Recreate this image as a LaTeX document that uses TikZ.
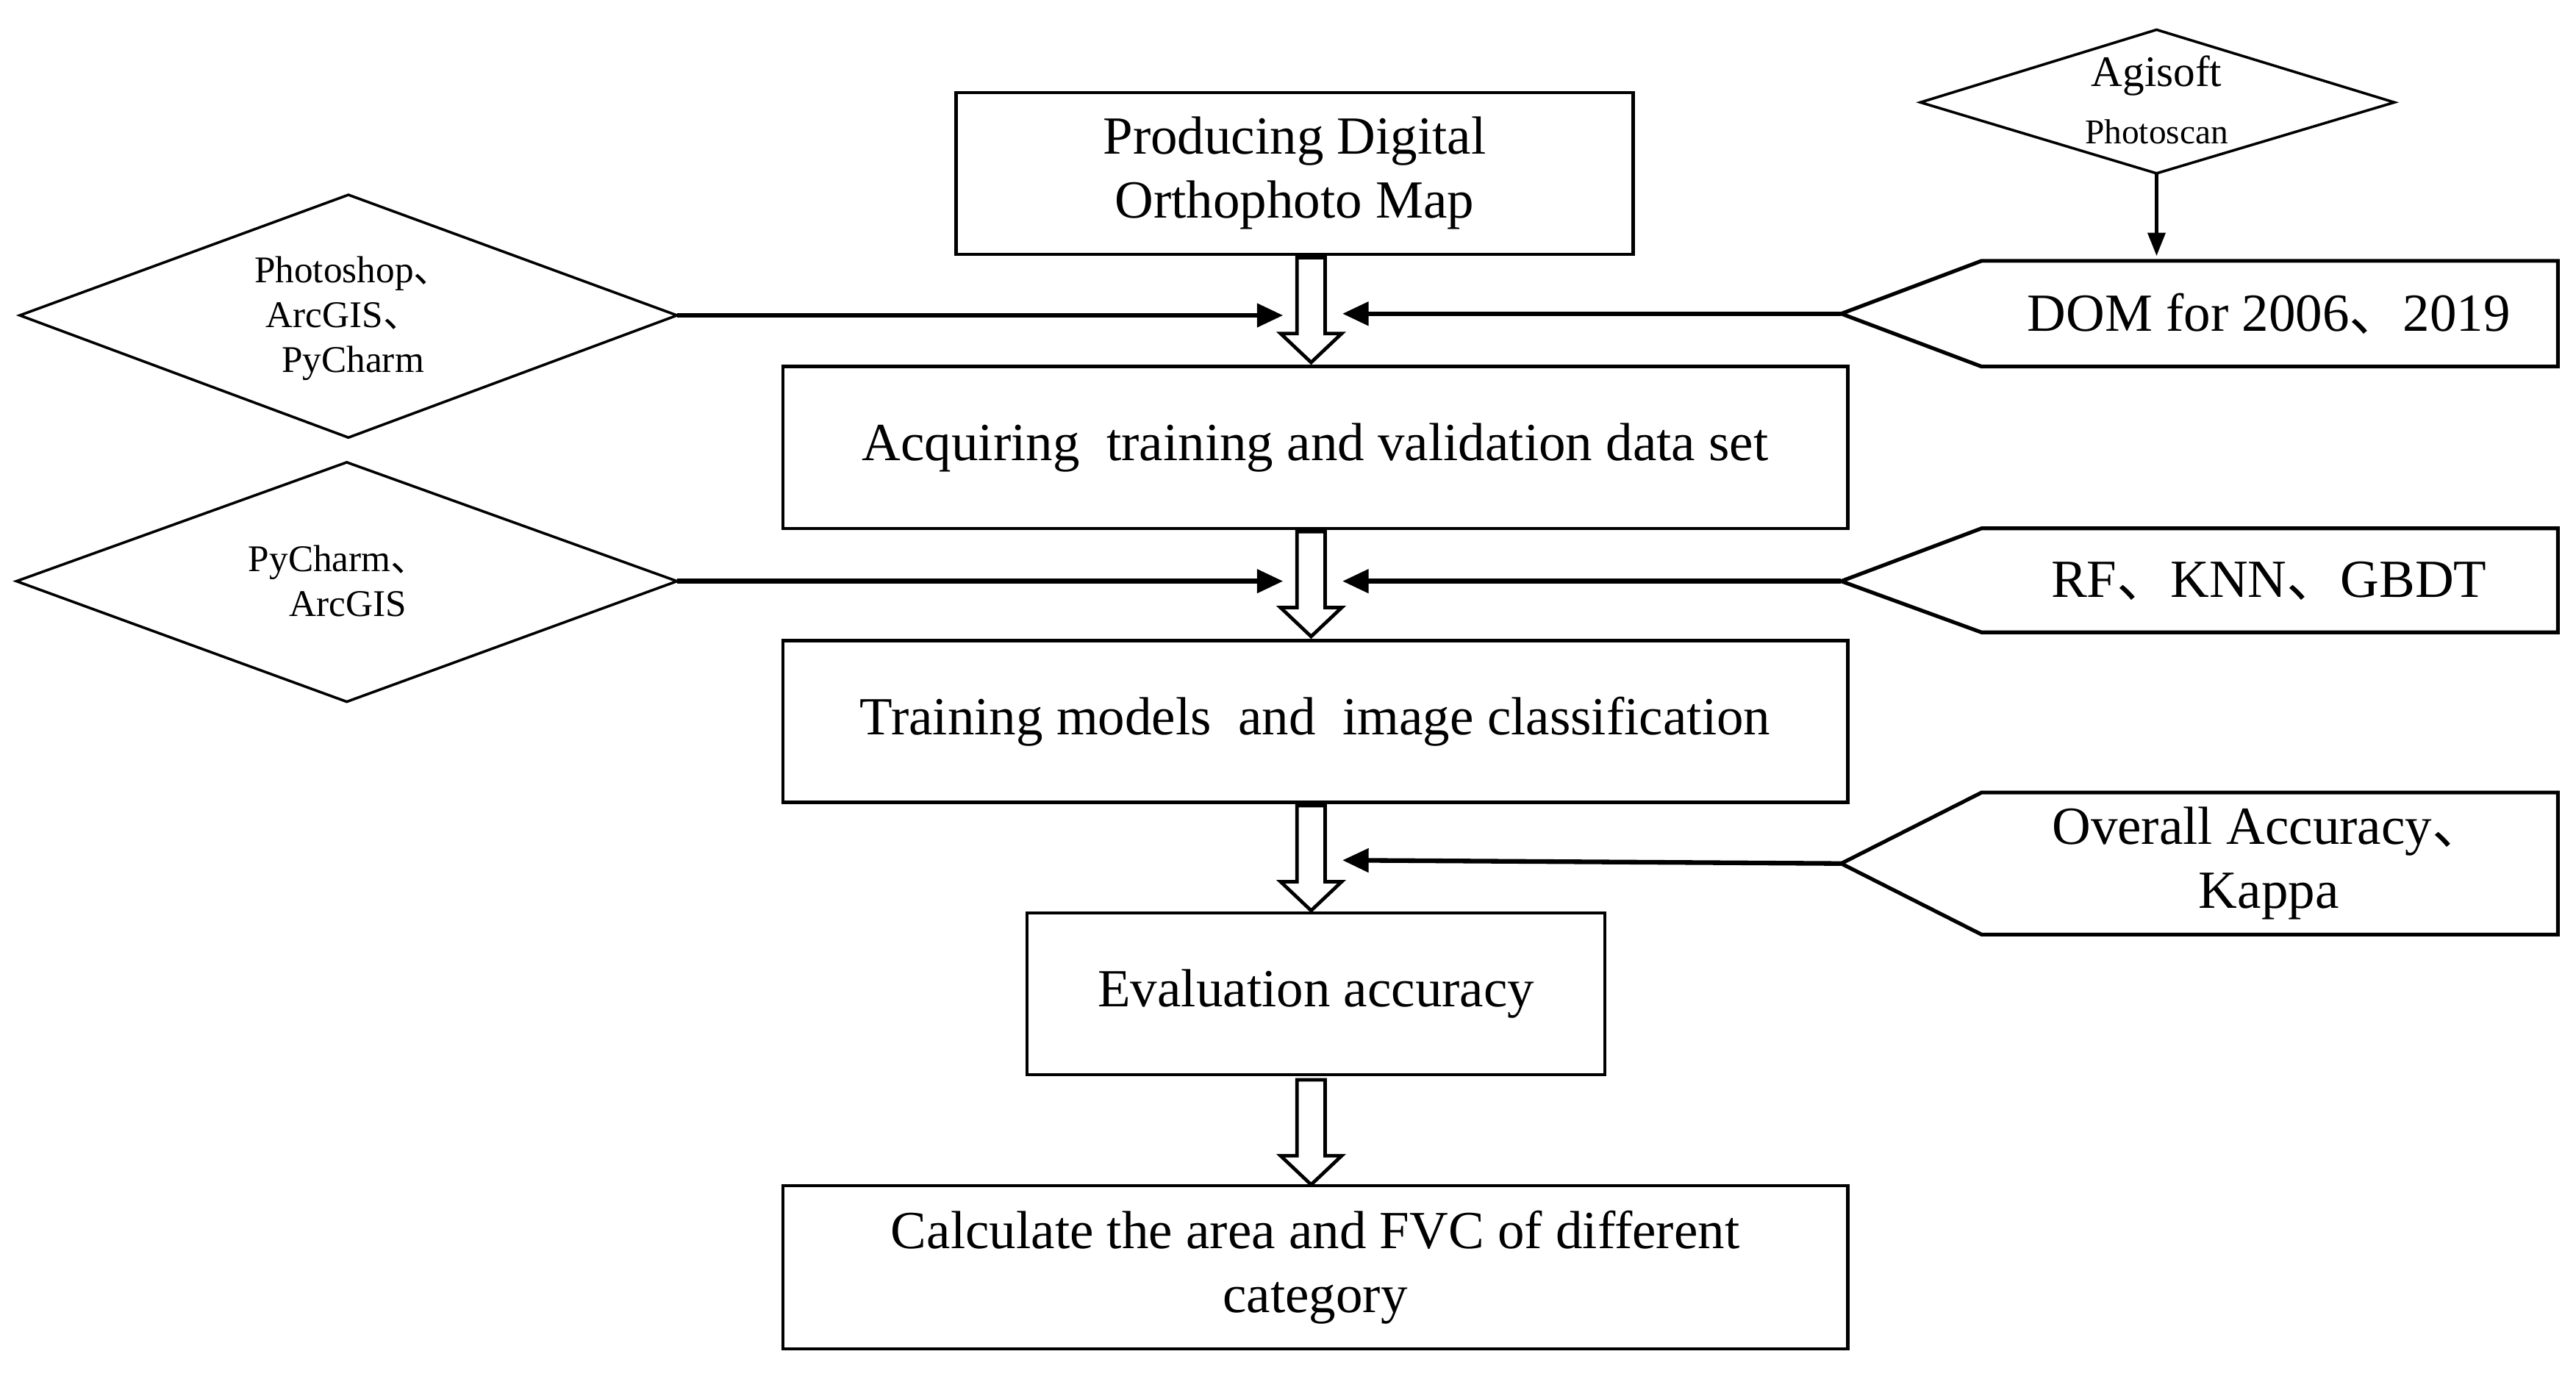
\documentclass[tikz,border=0pt]{standalone}
\usepackage{fontspec}
\setmainfont{Liberation Serif}
\newfontfamily\cjk{Noto Sans CJK SC}
\newcommand{\dun}{{\cjk 、}}
\usetikzlibrary{shapes.geometric,arrows.meta}
\begin{document}
\begin{tikzpicture}[x=0.02cm,y=-0.02cm,
 box/.style={draw,line width=1.1pt,rectangle,inner sep=0,align=center,font=\fontsize{18.5}{22}\selectfont},
 dl/.style={align=center,font=\fontsize{13}{15.5}\selectfont},
 con/.style={line width=1.6pt,-{Triangle[length=9pt,width=8pt]}},
 pent/.style={line width=1.3pt},
 dd/.style={line width=0.9pt},
 big/.style={font=\fontsize{18.5}{22}\selectfont,align=center}]
\useasboundingbox (0,0) rectangle (1560,835);
% boxes
\node[box,minimum width=410*0.02cm,minimum height=98*0.02cm] (b1) at (784,105) {Producing Digital\\Orthophoto Map};
\node[box,minimum width=645*0.02cm,minimum height=98*0.02cm] (b2) at (796.5,271) {Acquiring\ \ training and validation data set};
\node[box,minimum width=645*0.02cm,minimum height=98*0.02cm] (b3) at (796.5,437) {Training models\ \ and\ \ image classification};
\node[box,minimum width=350*0.02cm,minimum height=98*0.02cm] (b4) at (797,602) {Evaluation accuracy};
\node[box,minimum width=645*0.02cm,minimum height=99*0.02cm] (b5) at (796.5,767.5) {Calculate the area and FVC of different\\category};
% diamonds
\coordinate (agE) at (1450,62); \coordinate (agS) at (1306,105);
\draw[dd] (1163,62) -- (1306,18) -- (agE) -- (agS) -- cycle;
\node[font=\fontsize{15}{15}\selectfont] (ag) at (1306,46) {Agisoft};
\node[font=\fontsize{12}{13}\selectfont] (ag2) at (1306,80) {Photoscan};
\coordinate (d1E) at (410,191);
\draw[dd] (12,191) -- (211,118) -- (d1E) -- (211,265) -- cycle;
\node[dl] (d1) at (208,193) {\ \ Photoshop\dun\\ArcGIS\dun\\\ \ PyCharm};
\coordinate (d2E) at (410,352);
\draw[dd] (10,352) -- (210,280) -- (d2E) -- (210,425) -- cycle;
\node[dl] (d2) at (205,352) {PyCharm\dun\\\ \ ArcGIS};
% pentagons
\coordinate (t1) at (1115,190);
\draw[pent] (t1) -- (1200,158) -- (1549,158) -- (1549,222) -- (1200,222) -- cycle;
\node[big] (p1) at (1374,190) {DOM for 2006\dun 2019};
\coordinate (t2) at (1115,352);
\draw[pent] (t2) -- (1200,320) -- (1549,320) -- (1549,383) -- (1200,383) -- cycle;
\node[big] (p2) at (1374,352) {RF\dun KNN\dun GBDT};
\coordinate (t3) at (1115,523);
\draw[pent] (t3) -- (1200,480) -- (1549,480) -- (1549,566) -- (1200,566) -- cycle;
\node[big] (p3) at (1374,523) {Overall Accuracy\dun\\Kappa};
% hollow arrows
\foreach \y in {156,322,488,654}{
 \draw[line width=1.2pt,fill=white] (785.5,\y) -- (802.5,\y) -- (802.5,\y+46) -- (812.5,\y+46) -- (794,\y+63.5) -- (775.5,\y+46) -- (785.5,\y+46) -- cycle;
}
\coordinate (h1l) at (777,191); \coordinate (h1r) at (813,190);
\coordinate (h2l) at (777,352); \coordinate (h2r) at (813,352);
\coordinate (h3r) at (813,521);
% connectors
\draw[line width=1.2pt,-{Triangle[length=8pt,width=6pt]}] (agS) -- (1306,155);
\draw[con] (d1E) -- (h1l);
\draw[con] (t1) -- (h1r);
\draw[con] (d2E) -- (h2l);
\draw[con] (t2) -- (h2r);
\draw[con] (t3) -- (h3r);
\end{tikzpicture}
\end{document}
